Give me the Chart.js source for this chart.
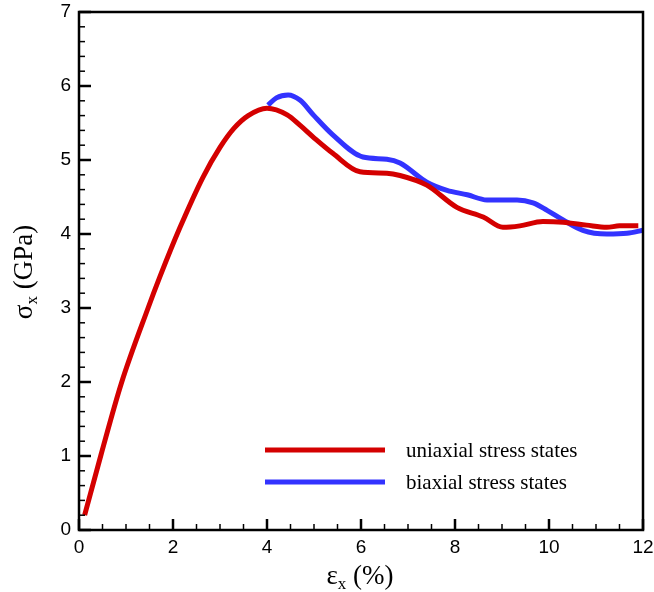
<!DOCTYPE html>
<html>
<head>
<meta charset="utf-8">
<script src="https://cdn.jsdelivr.net/npm/chart.js@4"></script>
<style>
html,body{margin:0;padding:0;background:#fff;}
#wrap{width:654px;height:592px;}
</style>
</head>
<body>
<div id="wrap"><canvas id="c" width="654" height="592"></canvas></div>
<script>
const strainU = [0.12, 0.47, 0.9, 1.47, 1.72, 2.15, 2.64, 3.0, 3.3, 3.6, 4.0, 4.43, 4.7, 5.0, 5.4, 5.98, 6.55, 6.83, 7.4, 8.04, 8.6, 9.02, 9.38, 9.87, 10.3, 10.8, 11.23, 11.5, 11.9];
const stressU = [0.2, 1.02, 1.98, 3.0, 3.42, 4.09, 4.77, 5.17, 5.43, 5.60, 5.70, 5.61, 5.47, 5.30, 5.09, 4.84, 4.82, 4.79, 4.66, 4.36, 4.23, 4.09, 4.11, 4.17, 4.16, 4.12, 4.09, 4.11, 4.11];
const strainB = [4.02, 4.2, 4.45, 4.7, 5.0, 5.4, 6.04, 6.55, 6.83, 7.4, 7.83, 8.26, 8.68, 9.32, 9.66, 9.96, 10.3, 10.72, 11.23, 11.66, 12.0];
const stressB = [5.74, 5.84, 5.88, 5.81, 5.60, 5.34, 5.04, 5.01, 4.96, 4.70, 4.59, 4.53, 4.46, 4.46, 4.42, 4.32, 4.19, 4.05, 4.00, 4.01, 4.05];
const seriesLabels = ['uniaxial stress states', 'biaxial stress states'];
const xTickValues = [0, 2, 4, 6, 8, 10, 12];
const yTickValues = [0, 1, 2, 3, 4, 5, 6, 7];

const RED = 'rgb(212,0,0)';
const BLUE = 'rgb(51,51,255)';

function pts(xs, ys){ return xs.map((x,i)=>({x:x, y:ys[i]})); }

const frameTicks = {
  id: 'frameTicks',
  afterDraw(chart){
    const ctx = chart.ctx, a = chart.chartArea;
    const xs = chart.scales.x, ys = chart.scales.y;
    ctx.save();
    ctx.strokeStyle = '#000';
    ctx.lineCap = 'butt';
    ctx.lineWidth = 2.5;
    ctx.strokeRect(a.left, a.top, a.right - a.left, a.bottom - a.top);
    for (let k = 0; k <= 24; k++) {
      const v = k*0.5;
      const px = xs.getPixelForValue(v);
      const major = k % 4 === 0;
      ctx.lineWidth = major ? 2.5 : 1.5;
      ctx.beginPath();
      ctx.moveTo(px, a.bottom);
      ctx.lineTo(px, a.bottom - (major ? 11 : 6));
      ctx.stroke();
    }
    for (let k = 0; k <= 35; k++) {
      const v = k*0.2;
      const py = ys.getPixelForValue(v);
      const major = k % 5 === 0;
      ctx.lineWidth = major ? 2.5 : 1.5;
      ctx.beginPath();
      ctx.moveTo(a.left, py);
      ctx.lineTo(a.left + (major ? 12 : 6), py);
      ctx.stroke();
    }
    ctx.fillStyle = '#000';
    ctx.textBaseline = 'alphabetic';
    const fx = '27px "Liberation Serif", "Times New Roman", serif';
    const fsub = '17px "Liberation Serif", "Times New Roman", serif';
    ctx.font = fx;
    const w1 = ctx.measureText('ε').width;
    ctx.font = fsub;
    const w2 = ctx.measureText('x').width;
    ctx.font = fx;
    const w3 = ctx.measureText(' (%)').width;
    let cx = 360 - (w1+w2+w3)/2, by = 584;
    ctx.textAlign = 'left';
    ctx.fillText('ε', cx, by);
    ctx.font = fsub; ctx.fillText('x', cx + w1, by + 5);
    ctx.font = fx; ctx.fillText(' (%)', cx + w1 + w2, by);
    ctx.save();
    ctx.translate(32, 272);
    ctx.rotate(-Math.PI/2);
    ctx.font = fx;
    const s1 = ctx.measureText('σ').width;
    ctx.font = fsub;
    const s2 = ctx.measureText('x').width;
    ctx.font = fx;
    const s3 = ctx.measureText(' (GPa)').width;
    let sx = -(s1+s2+s3)/2;
    ctx.fillText('σ', sx, 0);
    ctx.font = fsub; ctx.fillText('x', sx + s1, 5);
    ctx.font = fx; ctx.fillText(' (GPa)', sx + s1 + s2, 0);
    ctx.restore();
    const ds = chart.data.datasets;
    const rows = [450, 482];
    ds.forEach((d, i) => {
      ctx.strokeStyle = d.borderColor;
      ctx.lineWidth = 5;
      ctx.beginPath();
      ctx.moveTo(265, rows[i]);
      ctx.lineTo(385, rows[i]);
      ctx.stroke();
      ctx.fillStyle = '#000';
      ctx.font = '21px "Liberation Serif", "Times New Roman", serif';
      ctx.textAlign = 'left';
      ctx.textBaseline = 'middle';
      ctx.fillText(d.label, 406, rows[i] + 1);
    });
    ctx.restore();
  }
};

new Chart(document.getElementById('c'), {
  type: 'scatter',
  data: {
    datasets: [
      { label: seriesLabels[0], data: pts(strainU, stressU), showLine: true, borderColor: RED, backgroundColor: RED, borderWidth: 5, pointRadius: 0, cubicInterpolationMode: 'monotone' },
      { label: seriesLabels[1], data: pts(strainB, stressB), showLine: true, borderColor: BLUE, backgroundColor: BLUE, borderWidth: 5, pointRadius: 0, cubicInterpolationMode: 'monotone' }
    ]
  },
  options: {
    responsive: false,
    animation: false,
    devicePixelRatio: 1,
    layout: { padding: { top: 12, right: 11, left: 0, bottom: 0 } },
    plugins: { legend: { display: false }, tooltip: { enabled: false } },
    scales: {
      x: {
        type: 'linear', min: 0, max: 12,
        afterBuildTicks: s => { s.ticks = xTickValues.map(v => ({value: v})); },
        afterFit: s => { s.height = 62; s.paddingLeft = 0; s.paddingRight = 0; },
        grid: { display: false, drawTicks: false },
        border: { display: false },
        ticks: { padding: 6, color: '#000', font: { family: '"Liberation Sans", Arial, sans-serif', size: 19 }, maxRotation: 0 }
      },
      y: {
        type: 'linear', min: 0, max: 7,
        afterBuildTicks: s => { s.ticks = yTickValues.map(v => ({value: v})); },
        afterFit: s => { s.width = 79; s.paddingTop = 0; s.paddingBottom = 0; },
        grid: { display: false, drawTicks: false },
        border: { display: false },
        ticks: { padding: 8, color: '#000', font: { family: '"Liberation Sans", Arial, sans-serif', size: 19 } }
      }
    }
  },
  plugins: [frameTicks]
});
</script>
</body>
</html>
